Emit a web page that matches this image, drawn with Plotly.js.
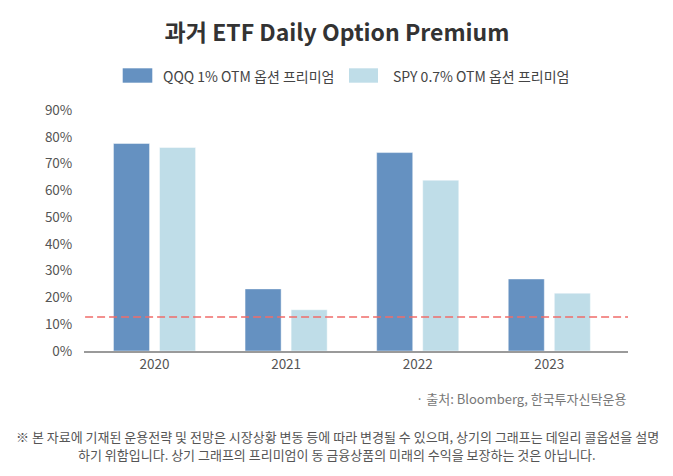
<!DOCTYPE html>
<html>
<head>
<meta charset="utf-8">
<script src="https://cdn.plot.ly/plotly-3.0.1.min.js"></script>
<style>html,body{margin:0;padding:0;background:#fff;}#chart{width:673px;height:476px;}</style>
</head>
<body>
<div id="chart"></div>
<script>
const years = ['2020', '2021', '2022', '2023'];
const qqqPremium = [77.5, 23.2, 74.1, 26.9];
const spyPremium = [76.0, 15.4, 63.8, 21.6];
const referenceLevel = 12.7;
const seriesNames = ['QQQ 1% OTM 옵션 프리미엄', 'SPY 0.7% OTM 옵션 프리미엄'];
const yTicks = [0, 10, 20, 30, 40, 50, 60, 70, 80, 90];
const titleText = '과거 ETF Daily Option Premium';
const sourceText = '· 출처: Bloomberg, 한국투자신탁운용';
const noteLines = [
  '※ 본 자료에 기재된 운용전략 및 전망은 시장상황 변동 등에 따라 변경될 수 있으며, 상기의 그래프는 데일리 콜옵션을 설명',
  '하기 위함입니다. 상기 그래프의 프리미엄이 동 금융상품의 미래의 수익을 보장하는 것은 아닙니다.'
];

const colors = ['#6591c1', '#bfdde8'];
const FONT = '"Noto Sans CJK KR", "Noto Sans", sans-serif';

const traces = [
  {type: 'bar', x: years, y: qqqPremium, name: seriesNames[0],
   marker: {color: colors[0], line: {color: 'rgba(255,255,255,0.45)', width: 1}}, hoverinfo: 'none'},
  {type: 'bar', x: years, y: spyPremium, name: seriesNames[1],
   marker: {color: colors[1], line: {color: 'rgba(255,255,255,0.45)', width: 1}}, hoverinfo: 'none'}
];

// plot area in pixels: left 84, right 628, top 110, bottom 351
const L = 84, R = 628, T = 110, B = 351;
const px = v => (v - L) / (R - L);
const py = v => (B - v) / (B - T);

const layout = {
  width: 673, height: 476,
  margin: {l: L, r: 673 - R, t: T, b: 476 - B, pad: 0},
  paper_bgcolor: '#fff', plot_bgcolor: '#fff',
  font: {family: FONT, color: '#555', size: 13},
  showlegend: false,
  barmode: 'group', bargap: 0.30, bargroupgap: 0.217,
  title: {text: '<b>' + titleText + '</b>', x: 337 / 673, xanchor: 'center', xref: 'container',
          y: 1 - 33 / 476, yanchor: 'middle', yref: 'container',
          font: {family: FONT, size: 23, color: '#333'}},
  xaxis: {type: 'category', range: [-0.536, 3.598], showline: true, linecolor: '#9a9a9a', linewidth: 1.5,
          ticks: '', showgrid: false, zeroline: false, tickfont: {size: 13.5, color: '#555'}},
  yaxis: {range: [0, 90], tickvals: yTicks, ticktext: yTicks.map(v => v + '%'), showgrid: false, zeroline: false,
          showline: false, ticks: 'outside', ticklen: 8, tickcolor: 'rgba(0,0,0,0)',
          tickfont: {size: 13.5, color: '#555'}},
  shapes: [
    {type: 'line', xref: 'paper', yref: 'y', x0: 0.002, x1: 1, y0: referenceLevel, y1: referenceLevel,
     line: {color: '#f06c6a', width: 1.5, dash: '8px,4px'}},
    {type: 'rect', xref: 'paper', yref: 'paper', x0: px(122.7), x1: px(152.3), y0: py(82.7), y1: py(68.3),
     fillcolor: colors[0], line: {width: 0}},
    {type: 'rect', xref: 'paper', yref: 'paper', x0: px(349), x1: px(378), y0: py(82.7), y1: py(68.3),
     fillcolor: colors[1], line: {width: 0}}
  ],
  annotations: [
    {xref: 'paper', yref: 'paper', x: px(161), y: py(75.5), xanchor: 'left', yanchor: 'middle', showarrow: false,
     text: seriesNames[0], font: {size: 14, color: '#444'}},
    {xref: 'paper', yref: 'paper', x: px(391), y: py(75.5), xanchor: 'left', yanchor: 'middle', showarrow: false,
     text: seriesNames[1], font: {size: 14, color: '#444'}},
    {xref: 'paper', yref: 'paper', x: 1, y: py(398), xanchor: 'right', yanchor: 'middle', showarrow: false,
     text: sourceText, font: {size: 13, color: '#777'}},
    {xref: 'paper', yref: 'paper', x: px(337), y: py(436), xanchor: 'center', yanchor: 'middle', showarrow: false,
     text: noteLines[0], font: {size: 13, color: '#555'}},
    {xref: 'paper', yref: 'paper', x: px(337), y: py(454), xanchor: 'center', yanchor: 'middle', showarrow: false,
     text: noteLines[1], font: {size: 13, color: '#555'}}
  ]
};

Plotly.newPlot('chart', traces, layout, {staticPlot: true, displayModeBar: false});
</script>
</body>
</html>
